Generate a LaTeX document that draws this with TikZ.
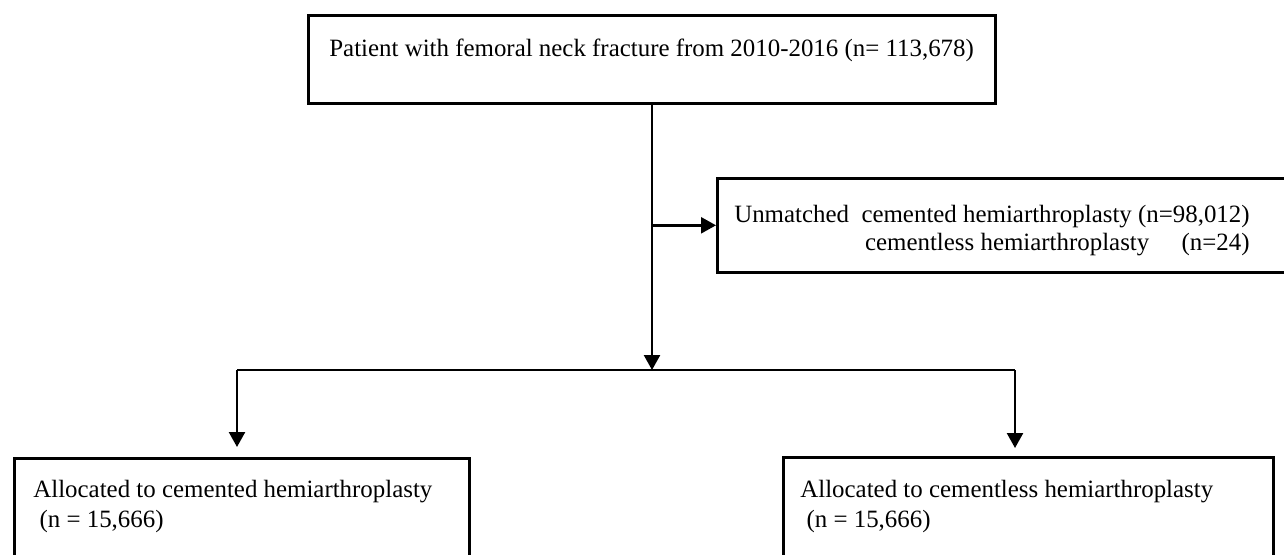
\documentclass[tikz,border=0pt]{standalone}
\usepackage{fontspec}
\setmainfont{Liberation Serif}
\usetikzlibrary{arrows.meta,positioning}

\begin{document}
\begin{tikzpicture}[x=0.5pt,y=-0.5pt,
		box/.style={draw, line width=1.3pt, inner sep=0pt, anchor=north west},
		txt/.style={inner sep=0pt, font=\fontsize{12.45}{14}\selectfont},
		link/.style={line width=1.2pt},
		arr/.style={line width=1.2pt, -{Triangle[length=7.5pt,width=8pt]}}]
			%%%%% START %%%%%
			
			\useasboundingbox (0, 0) rectangle (1284, 554);
			\clip (0, 0) rectangle (1284, 554);
			
			% boxes
			\node[box, minimum width=343.5pt, minimum height=44pt] (total) at (307, 14) {};
			\node[box, minimum width=289.5pt, minimum height=47pt] (unmatched) at (716, 177) {};
			\node[box, minimum width=227.5pt, minimum height=62pt] (cemented) at (13, 457) {};
			\node[box, minimum width=245pt, minimum height=62pt] (cementless) at (782, 456) {};
			
			% texts
			\node[txt, anchor=west] (totaltxt) at (329, 50) {Patient with femoral neck fracture from 2010-2016 (n= 113,678)};
			\node[txt, anchor=east] (unmtxta) at (1250, 217) {Unmatched\ \ cemented hemiarthroplasty (n=98,012)};
			\node[txt, anchor=east] (unmtxtb) at (1250, 245) {cementless hemiarthroplasty\hspace{1.3em}(n=24)};
			\node[txt, anchor=west] (cemtxta) at (33, 492) {Allocated to cemented hemiarthroplasty};
			\node[txt, anchor=west] (cemtxtb) at (33, 521) {\ (n = 15,666)};
			\node[txt, anchor=west] (clstxta) at (800, 492) {Allocated to cementless hemiarthroplasty};
			\node[txt, anchor=west] (clstxtb) at (800, 521) {\ (n = 15,666)};
			
			% connectors
			\coordinate (fork) at (652, 370);
			\coordinate (forkl) at (237, 370);
			\coordinate (forkr) at (1015, 370);
			\coordinate (branch) at (fork |- unmatched.west);
			
			\draw[arr] (total.south -| fork) -- (fork);
			\draw[arr] (branch) -- (unmatched.west);
			\draw[link] (forkl) -- (forkr);
			\draw[arr, shorten >=5pt] (forkl) -- (forkl |- cemented.north);
			\draw[arr, shorten >=4pt] (forkr) -- (forkr |- cementless.north);
			
			%%%%% END %%%%%
		\end{tikzpicture}
\end{document}
